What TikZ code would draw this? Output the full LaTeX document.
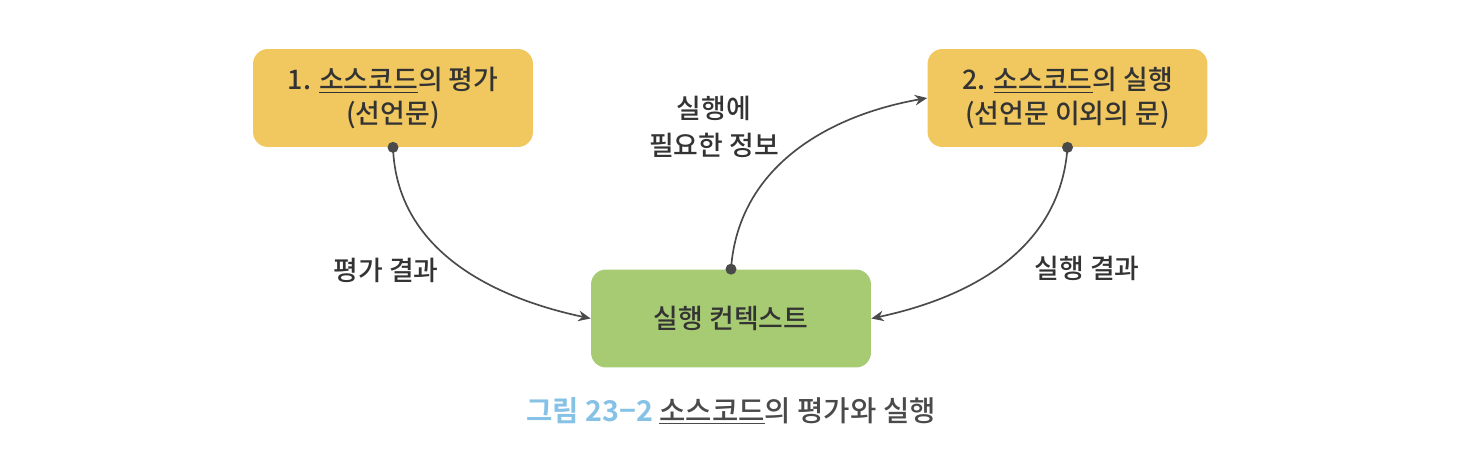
\documentclass[tikz,border=0pt]{standalone}
\usepackage{fontspec}
\setmainfont{Noto Sans CJK KR Medium}[BoldFont=Noto Sans CJK KR Bold]
\usetikzlibrary{arrows.meta,positioning}
\definecolor{boxyellow}{HTML}{F0C85F}
\definecolor{boxgreen}{HTML}{A6CB73}
\definecolor{txtgray}{HTML}{333333}
\definecolor{linegray}{HTML}{4A4A4A}
\definecolor{capblue}{HTML}{86C2E6}
\tikzset{
	stage/.style={rounded corners=0.3cm,minimum width=5.6cm,minimum height=1.96cm,align=center,font=\fontsize{15.3}{19.3}\selectfont,text=txtgray,inner sep=0pt},
	flow/.style={draw=linegray,line width=0.95pt,-{Stealth[length=7pt,width=6pt]}},
	lbl/.style={align=center,font=\fontsize{15.3}{21}\selectfont,text=txtgray},
	dot/.style={fill=linegray}
}
\begin{document}
\begin{tikzpicture}[x=0.02cm,y=-0.02cm]
			\useasboundingbox (0,0) rectangle (1472,454);
			\node[stage,fill=boxyellow] at (393,98) (eval) {1. \underline{소스코드}의 평가\\(선언문)};
			\node[stage,fill=boxyellow] at (1067.5,98) (exec) {2. \underline{소스코드}의 실행\\(선언문 이외의 문)};
			\node[stage,fill=boxgreen] at (731,318.5) (ctx) {실행 컨텍스트};
			\draw[flow] (eval.south) to[out=-88,in=168] (ctx.west);
			\draw[flow] (ctx.north) to[out=86,in=190] (exec.west);
			\draw[flow] (exec.south) to[out=-94,in=12] (ctx.east);
			\fill[dot] (eval.south) circle (0.11cm);
			\fill[dot] (ctx.north) circle (0.11cm);
			\fill[dot] (exec.south) circle (0.11cm);
			\node[lbl] at (386,270) (evalres) {평가 결과};
			\node[lbl] at (714,127) (info) {실행에\\필요한 정보};
			\node[lbl] at (1087,268) (execres) {실행 결과};
			\node[font=\fontsize{16.3}{20}\selectfont,text=linegray] at (731,411) (cap) {{\bfseries\color{capblue}그림 23−2} \underline{소스코드}의 평가와 실행};
		\end{tikzpicture}
\end{document}
